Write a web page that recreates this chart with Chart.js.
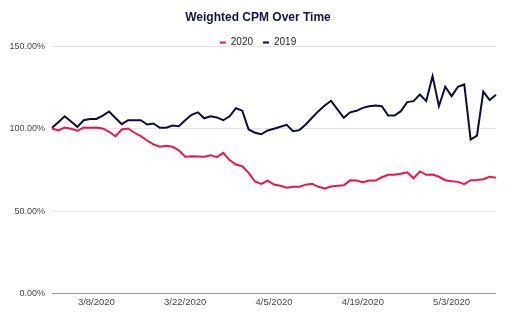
<!DOCTYPE html>
<html>
<head>
<meta charset="utf-8">
<script src="https://cdn.jsdelivr.net/npm/chart.js@4/dist/chart.umd.min.js"></script>
<style>
  html, body { margin: 0; padding: 0; background: #fff; }
  #wrap { width: 512px; height: 321px; }
</style>
</head>
<body>
<div id="wrap"><canvas id="cpmChart"></canvas></div>
<script>
const dates = [
  "3/1/2020","3/2/2020","3/3/2020","3/4/2020","3/5/2020","3/6/2020","3/7/2020","3/8/2020","3/9/2020","3/10/2020",
  "3/11/2020","3/12/2020","3/13/2020","3/14/2020","3/15/2020","3/16/2020","3/17/2020","3/18/2020","3/19/2020","3/20/2020",
  "3/21/2020","3/22/2020","3/23/2020","3/24/2020","3/25/2020","3/26/2020","3/27/2020","3/28/2020","3/29/2020","3/30/2020",
  "3/31/2020","4/1/2020","4/2/2020","4/3/2020","4/4/2020","4/5/2020","4/6/2020","4/7/2020","4/8/2020","4/9/2020",
  "4/10/2020","4/11/2020","4/12/2020","4/13/2020","4/14/2020","4/15/2020","4/16/2020","4/17/2020","4/18/2020","4/19/2020",
  "4/20/2020","4/21/2020","4/22/2020","4/23/2020","4/24/2020","4/25/2020","4/26/2020","4/27/2020","4/28/2020","4/29/2020",
  "4/30/2020","5/1/2020","5/2/2020","5/3/2020","5/4/2020","5/5/2020","5/6/2020","5/7/2020","5/8/2020","5/9/2020",
  "5/10/2020"
];

const cpm2020 = [
  100.2, 99, 100.8, 100, 98.8, 100.8, 100.6, 100.8, 100.2, 98.2,
  95.5, 99.6, 100.2, 97.6, 95.5, 92.9, 90.5, 89.1, 89.7, 89.1,
  87, 83, 83.4, 83.2, 83, 84, 82.8, 85.4, 81, 78.3,
  77.3, 73.3, 68, 66.6, 68.6, 66.2, 65.4, 64.2, 64.8, 64.8,
  66.1, 66.7, 64.8, 63.8, 65, 65.5, 65.7, 68.7, 68.6, 67.6,
  68.6, 68.6, 70.6, 72.1, 72.1, 72.7, 73.6, 70, 74.1, 72.1,
  72.3, 70.9, 68.8, 68.2, 67.8, 66.4, 68.8, 69, 69.4, 70.9,
  70.3
];

const cpm2019 = [
  100.6, 104, 107.6, 104.4, 101.2, 105.2, 106, 106, 108, 110.5,
  106.6, 102.8, 105.2, 105.2, 105.2, 102.6, 103.2, 100.6, 100.6, 102,
  101.6, 105.2, 108.5, 110, 106.4, 107.6, 106.9, 105.2, 107.6, 112.5,
  111, 99.6, 97.6, 96.7, 99, 100, 101.2, 102.4, 98.5, 99.2,
  102.6, 106.7, 110.7, 114.1, 117, 111.8, 106.7, 110, 110.9, 112.7,
  113.7, 114.1, 113.7, 108, 108, 110.7, 116.2, 116.8, 120.8, 116.8,
  132, 113.7, 125.5, 119.8, 125.5, 126.9, 93.5, 95.9, 122.6, 117.4,
  120.6
];

const xTickLabels = ["3/8/2020", "3/22/2020", "4/5/2020", "4/19/2020", "5/3/2020"];
const yTicks = [0, 50, 100, 150];

// tighter legend box + title/legend nudged right like the original
const headerTweak = {
  id: "headerTweak",
  afterInit(chart) {
    const lg = chart.legend;
    const fit = lg.fit.bind(lg);
    lg.fit = function () {
      fit();
      this.height = 19;
    };
  },
  afterLayout(chart) {
    [chart.titleBlock, chart.legend].forEach((box) => {
      if (!box) return;
      box.left += 10;
      box.right += 10;
    });
  }
};

const ctx = document.getElementById("cpmChart").getContext("2d");
new Chart(ctx, {
  type: "line",
  data: {
    labels: dates,
    datasets: [
      {
        label: "2020",
        data: cpm2020,
        borderColor: "#e8174b",
        backgroundColor: "#e8174b",
        borderWidth: 2,
        pointRadius: 0,
        tension: 0
      },
      {
        label: "2019",
        data: cpm2019,
        borderColor: "#0c0c3a",
        backgroundColor: "#0c0c3a",
        borderWidth: 2,
        pointRadius: 0,
        tension: 0
      }
    ]
  },
  options: {
    responsive: true,
    maintainAspectRatio: false,
    animation: false,
    layout: { padding: { top: 0, left: 0, right: 16, bottom: 10 } },
    plugins: {
      title: {
        display: true,
        text: "Weighted CPM Over Time",
        color: "#14143c",
        font: { family: "Liberation Sans", size: 12, weight: "bold" },
        padding: { top: 10, bottom: 3 }
      },
      legend: {
        display: true,
        position: "top",
        labels: {
          usePointStyle: true,
          pointStyle: "line",
          pointStyleWidth: 6,
          padding: 10,
          color: "#222",
          font: { family: "Liberation Sans", size: 10 }
        }
      },
      tooltip: { enabled: false }
    },
    scales: {
      x: {
        grid: { display: false, drawTicks: false },
        border: { display: false },
        ticks: {
          autoSkip: false,
          maxRotation: 0,
          padding: 3,
          color: "#444",
          font: { family: "Liberation Sans", size: 9.5 },
          callback: function (value, index) {
            const lbl = dates[index];
            return xTickLabels.includes(lbl) ? lbl : null;
          }
        }
      },
      y: {
        min: 0,
        max: 150,
        afterFit: (scale) => { scale.width = 52; },
        afterBuildTicks: (scale) => { scale.ticks = yTicks.map((v) => ({ value: v })); },
        grid: {
          drawTicks: false,
          color: (c) => (c.tick && c.tick.value === 0 ? "#9a9a9a" : "#e3e3e3")
        },
        border: { display: false },
        ticks: {
          padding: 7,
          color: "#444",
          font: { family: "Liberation Sans", size: 9 },
          callback: (v) => v.toFixed(2) + "%"
        }
      }
    }
  },
  plugins: [headerTweak]
});
</script>
</body>
</html>
